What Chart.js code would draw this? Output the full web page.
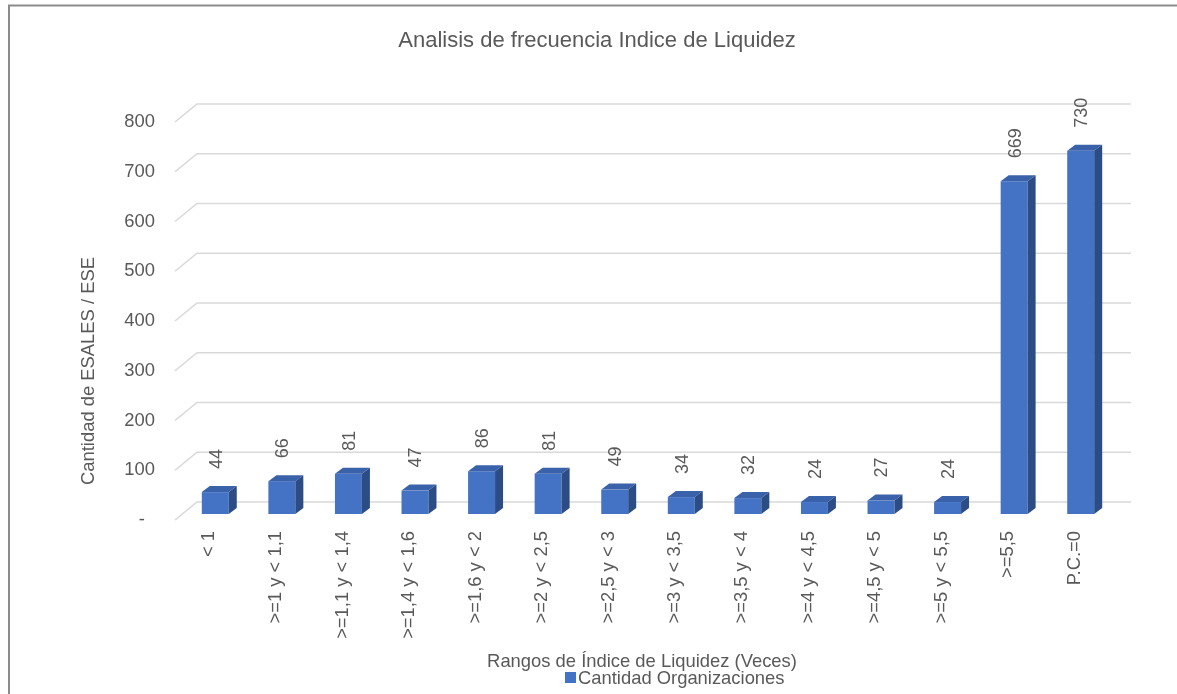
<!DOCTYPE html>
<html>
<head>
<meta charset="utf-8">
<script src="https://cdn.jsdelivr.net/npm/chart.js@4"></script>
<style>
  html, body { margin: 0; padding: 0; background: #ffffff; }
  canvas { display: block; }
</style>
</head>
<body>
<canvas id="chart" width="1177" height="694"></canvas>
<script>
// Frequency ranges of the liquidity index and the count of organizations in each
const categories = [
  '< 1', '>=1 y < 1,1', '>=1,1 y < 1,4', '>=1,4 y < 1,6', '>=1,6 y < 2',
  '>=2 y < 2,5', '>=2,5 y < 3', '>=3 y < 3,5', '>=3,5 y < 4', '>=4 y < 4,5',
  '>=4,5 y < 5', '>=5 y < 5,5', '>=5,5', 'P.C.=0'
];
const cantidadOrganizaciones = [44, 66, 81, 47, 86, 81, 49, 34, 32, 24, 27, 24, 669, 730];
const yTicks = [0, 100, 200, 300, 400, 500, 600, 700, 800];

const chartTitle = 'Analisis de frecuencia Indice de Liquidez';
const xTitle = 'Rangos de Índice de Liquidez (Veces)';
const yTitle = 'Cantidad de ESALES / ESE';
const seriesName = 'Cantidad Organizaciones';

const FONT = '"Liberation Sans", Arial, sans-serif';
const TEXT = '#595959';
const FRONT = '#4472C4';
const TOP = '#3A62AA';
const SIDE = '#2C4C85';
const GRID = '#D9D9D9';

// 3D depth of the bars and of the floor/back wall
const BAR_DX = 8, BAR_DY = -6;
const WALL_FRONT_X = 175, WALL_BACK_X = 197, WALL_RIGHT_X = 1131;

// Frame, titles and legend
const decorPlugin = {
  id: 'decor',
  beforeDraw(chart) {
    const ctx = chart.ctx;
    ctx.save();
    ctx.strokeStyle = '#8C8C8C';
    ctx.lineWidth = 2;
    ctx.beginPath();
    ctx.moveTo(9, 694);
    ctx.lineTo(9, 5.5);
    ctx.lineTo(1177, 5.5);
    ctx.stroke();
    ctx.restore();
  },
  afterDraw(chart) {
    const ctx = chart.ctx;
    ctx.save();
    ctx.fillStyle = TEXT;
    ctx.textBaseline = 'alphabetic';
    ctx.textAlign = 'center';
    ctx.font = '22px ' + FONT;
    ctx.fillText(chartTitle, 597, 47);

    ctx.font = '18.4px ' + FONT;
    ctx.fillText(xTitle, 642, 667);

    ctx.save();
    ctx.translate(94, 371);
    ctx.rotate(-Math.PI / 2);
    ctx.fillText(yTitle, 0, 0);
    ctx.restore();

    // legend
    ctx.fillStyle = FRONT;
    ctx.fillRect(565, 672, 11, 11);
    ctx.fillStyle = TEXT;
    ctx.textAlign = 'left';
    ctx.fillText(seriesName, 578, 684);
    ctx.restore();
  }
};

// Floor-to-back-wall gridlines, drawn from the y scale
const gridPlugin = {
  id: 'grid3d',
  beforeDatasetsDraw(chart) {
    const ctx = chart.ctx;
    const y = chart.scales.y;
    ctx.save();
    ctx.strokeStyle = GRID;
    ctx.lineWidth = 1.6;
    yTicks.forEach(v => {
      const p = y.getPixelForValue(v);
      const front = p + 6, back = p - 12;
      ctx.beginPath();
      ctx.moveTo(WALL_FRONT_X, front);
      ctx.lineTo(WALL_BACK_X, back);
      ctx.lineTo(WALL_RIGHT_X, back);
      ctx.stroke();
    });
    ctx.restore();
  }
};

// Top and side faces of each bar plus the rotated value labels
const barFacesPlugin = {
  id: 'barFaces',
  afterDatasetsDraw(chart) {
    const ctx = chart.ctx;
    const meta = chart.getDatasetMeta(0);
    const values = chart.data.datasets[0].data;
    ctx.save();
    meta.data.forEach((bar, i) => {
      const {x, y, base, width} = bar.getProps(['x', 'y', 'base', 'width'], true);
      const l = x - width / 2, r = x + width / 2;
      ctx.fillStyle = TOP;
      ctx.beginPath();
      ctx.moveTo(l, y);
      ctx.lineTo(l + BAR_DX, y + BAR_DY);
      ctx.lineTo(r + BAR_DX, y + BAR_DY);
      ctx.lineTo(r, y);
      ctx.closePath();
      ctx.fill();
      ctx.fillStyle = SIDE;
      ctx.beginPath();
      ctx.moveTo(r, y);
      ctx.lineTo(r + BAR_DX, y + BAR_DY);
      ctx.lineTo(r + BAR_DX, base + BAR_DY);
      ctx.lineTo(r, base);
      ctx.closePath();
      ctx.fill();

      ctx.save();
      ctx.translate(x + 1.5, y - 23);
      ctx.rotate(-Math.PI / 2);
      ctx.fillStyle = TEXT;
      ctx.font = '18px ' + FONT;
      ctx.textAlign = 'left';
      ctx.textBaseline = 'middle';
      ctx.fillText(String(values[i]), 0, 0);
      ctx.restore();
    });
    ctx.restore();
  }
};

new Chart(document.getElementById('chart'), {
  type: 'bar',
  data: {
    labels: categories,
    datasets: [{
      label: seriesName,
      data: cantidadOrganizaciones,
      backgroundColor: FRONT,
      borderWidth: 0,
      categoryPercentage: 1,
      barPercentage: 0.405
    }]
  },
  options: {
    responsive: false,
    animation: false,
    devicePixelRatio: 1,
    layout: { padding: { left: 0, top: 116, right: 63, bottom: 0 } },
    plugins: {
      legend: { display: false },
      title: { display: false },
      tooltip: { enabled: false }
    },
    scales: {
      x: {
        grid: { display: false, drawTicks: false },
        border: { display: false },
        ticks: {
          color: TEXT,
          font: { family: FONT, size: 18.4 },
          minRotation: 90,
          maxRotation: 90,
          autoSkip: false,
          labelOffset: -6,
          padding: 17
        },
        afterFit(scale) { scale.height = 180; }
      },
      y: {
        min: 0,
        max: 800,
        grid: { display: false, drawTicks: false },
        border: { display: false },
        ticks: {
          stepSize: 100,
          color: TEXT,
          font: { family: FONT, size: 18.4 },
          padding: 27,
          labelOffset: 6,
          callback: v => (v === 0 ? '-  ' : String(v))
        },
        afterFit(scale) { scale.width = 182; }
      }
    }
  },
  plugins: [decorPlugin, gridPlugin, barFacesPlugin]
});
</script>
</body>
</html>
